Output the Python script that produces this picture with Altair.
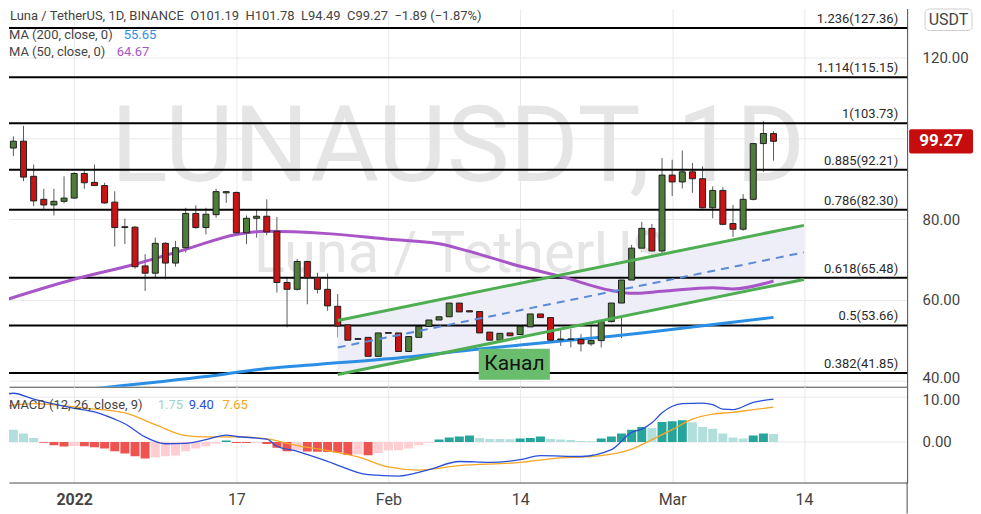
import altair as alt
import pandas as pd

# ---------------- data ----------------
START, END = "2021-12-25", "2022-03-11"
opens = [96.6, 97.6, 99.3, 90.6, 84.9, 83.5, 84.4,
         85.2, 91.3, 89.1, 88.3, 84.2, 78.1, 78.0, 68.4, 66.6, 74.0, 69.1, 72.9, 81.4, 77.9, 81.1, 86.5,
         86.6, 76.6, 80.2, 80.7, 77.0, 64.3, 62.6, 69.5, 65.5, 62.6, 58.4, 53.8, 50.2, 50.7, 46.0,
         51.7, 51.8, 47.2, 50.7, 53.4, 55.0, 55.8, 59.2, 57.3, 57.1, 52.0, 50.0, 51.8, 51.4, 53.3, 56.5,
         55.6, 50.1, 50.3, 50.2, 49.1, 49.9, 54.6, 59.2, 64.9, 72.8, 77.7, 72.1,
         90.9, 89.2, 91.7, 90.0, 82.8, 87.1, 78.9, 77.5, 84.9, 98.7, 101.19]
highs = [97.5, 100.5, 103.1, 93.5, 87.5, 87.5, 90.6,
         91.6, 92.3, 93.5, 89.0, 86.9, 80.1, 78.3, 71.3, 75.4, 74.3, 74.6, 82.8, 83.4, 82.8, 87.5, 86.9,
         86.8, 80.9, 82.4, 84.9, 80.5, 65.5, 70.1, 70.0, 66.7, 66.5, 61.4, 54.1, 53.2, 51.5, 52.0,
         54.0, 52.2, 52.0, 54.4, 58.1, 57.0, 60.4, 59.8, 57.5, 57.4, 54.4, 52.7, 53.3, 54.4, 57.1, 57.3,
         57.0, 52.5, 52.8, 51.5, 53.8, 55.6, 64.7, 65.5, 73.6, 79.3, 78.8, 95.1,
         94.7, 97.0, 93.9, 93.1, 88.1, 87.9, 83.5, 86.2, 104.6, 104.2, 101.78]
lows = [95.3, 95.6, 89.4, 83.2, 82.2, 80.9, 83.9,
        85.0, 87.5, 88.2, 83.8, 73.2, 73.8, 67.7, 62.2, 65.4, 65.1, 68.2, 71.7, 77.6, 76.2, 80.3, 84.0,
        76.3, 73.8, 75.4, 76.0, 61.8, 53.2, 62.3, 58.9, 61.6, 57.3, 50.7, 47.4, 49.1, 45.8, 43.7,
        51.1, 47.0, 46.6, 49.1, 52.8, 53.2, 54.2, 54.4, 54.2, 51.5, 49.5, 49.5, 50.7, 50.7, 52.3, 54.8,
        49.8, 48.6, 48.2, 47.2, 48.6, 48.2, 54.4, 50.5, 63.5, 71.9, 70.9, 70.4,
        85.7, 87.6, 86.5, 82.6, 80.2, 78.5, 75.6, 77.1, 84.6, 91.7, 94.49]
closes = [96.0, 99.3, 90.4, 84.5, 83.5, 84.4, 85.2,
          91.3, 89.0, 88.3, 84.0, 77.9, 77.9, 68.2, 66.6, 74.0, 69.1, 72.9, 81.4, 77.9, 81.2, 86.8, 86.8,
          76.6, 80.2, 80.7, 76.8, 64.3, 62.6, 69.5, 65.5, 62.6, 58.5, 53.5, 50.0, 50.4, 46.0, 51.8,
          51.9, 47.2, 50.9, 53.4, 55.0, 55.8, 59.2, 57.0, 57.0, 51.8, 50.0, 51.7, 51.1, 53.4, 56.5, 55.6,
          50.0, 50.3, 50.2, 49.1, 49.9, 54.6, 59.2, 64.9, 72.8, 77.7, 72.1, 90.9,
          89.2, 91.7, 90.0, 82.8, 87.1, 78.7, 77.5, 84.9, 98.7, 101.19, 99.27]
macd_hist = [3.3, 2.7, 1.83, 0.88, -0.2, -0.73, -1.0,
             -0.9, -0.97, -1.17, -1.46, -2.05, -2.56, -3.14, -3.65, -3.36, -3.14, -3.0, -2.05, -1.46, -0.95,
             -0.37, 0.3, -0.22, -0.25, -0.15, -0.44, -1.3, -2.05, -1.83, -2.1, -2.15, -2.2, -2.3, -2.85,
             -2.75, -2.95, -2.41,
             -1.9, -1.83, -1.46, -0.73, -0.22, 0.51, 0.95, 1.17, 1.39, 0.88, 0.66, 0.64, 0.6, 0.73, 0.88,
             1.17, 0.66, 0.51, 0.44, 0.22, 0.15, 0.73, 1.17, 1.83, 2.7, 3.3, 3.07, 4.39,
             4.53, 4.75, 4.31, 3.29, 2.92, 1.83, 0.95, 0.73, 1.39, 1.85, 1.75]

ma50_dates = ["2021-12-25", "2022-01-01", "2022-01-07", "2022-01-12", "2022-01-17", "2022-01-20",
              "2022-01-26", "2022-02-01", "2022-02-06", "2022-02-09", "2022-02-14", "2022-02-18",
              "2022-02-23", "2022-02-25", "2022-02-28", "2022-03-05", "2022-03-07", "2022-03-11"]
ma50_vals = [59.8, 65.1, 68.8, 72.5, 76.2, 77.0, 76.4, 75.0, 73.9, 72.0, 68.3, 65.8,
             62.3, 61.6, 62.1, 63.0, 62.7, 64.67]
ma200_dates = ["2021-12-25", "2022-01-03", "2022-01-09", "2022-01-14", "2022-01-20", "2022-01-25",
               "2022-02-01", "2022-02-10", "2022-02-14", "2022-02-23", "2022-02-26", "2022-03-11"]
ma200_vals = [35.5, 38.0, 39.6, 41.0, 43.0, 44.0, 45.4, 47.8, 48.8, 51.0, 51.8, 55.65]

macd_dates = ["2021-12-25", "2021-12-26", "2021-12-28", "2022-01-01", "2022-01-03", "2022-01-05",
              "2022-01-06", "2022-01-08", "2022-01-10", "2022-01-12", "2022-01-14", "2022-01-16",
              "2022-01-17", "2022-01-20", "2022-01-21", "2022-01-23", "2022-01-25", "2022-01-26",
              "2022-01-30", "2022-02-02", "2022-02-05", "2022-02-08", "2022-02-11", "2022-02-14",
              "2022-02-16", "2022-02-20", "2022-02-23", "2022-02-25", "2022-02-26", "2022-02-27",
              "2022-02-28", "2022-03-02", "2022-03-04", "2022-03-05", "2022-03-06", "2022-03-07",
              "2022-03-09", "2022-03-11"]
macd_vals = [10.4, 10.7, 9.4, 7.4, 6.6, 5.0, 4.0, 1.1, -0.4, -0.3, 0.5, 1.5, 1.2, 0.6, -0.95, -2.05,
             -3.5, -4.25, -7.2, -7.5, -6.1, -4.3, -4.5, -3.9, -3.0, -3.2, -1.7, 2.1, 2.8, 4.2, 6.4,
             8.4, 8.55, 8.2, 7.2, 7.1, 8.7, 9.4]
signal_dates = ["2021-12-25", "2021-12-28", "2022-01-02", "2022-01-06", "2022-01-09", "2022-01-12",
                "2022-01-14", "2022-01-17", "2022-01-20", "2022-01-23", "2022-01-26", "2022-01-29",
                "2022-02-01", "2022-02-04", "2022-02-08", "2022-02-14", "2022-02-17", "2022-02-22",
                "2022-02-25", "2022-02-26", "2022-02-27", "2022-03-01", "2022-03-03", "2022-03-05",
                "2022-03-07", "2022-03-09", "2022-03-11"]
signal_vals = [7.8, 8.4, 7.45, 6.4, 3.8, 1.4, 1.1, 1.1, 0.66, -0.8, -1.9, -3.3, -5.5, -6.2, -5.2,
               -4.5, -3.7, -3.0, -1.6, -0.6, 0.5, 2.7, 5.0, 6.1, 6.5, 7.1, 7.65]

fib_ratios = ["1.236", "1.114", "1", "0.885", "0.786", "0.618", "0.5", "0.382"]
fib_levels = [127.36, 115.15, 103.73, 92.21, 82.30, 65.48, 53.66, 41.85]

channel_dates = ["2022-01-27", "2022-03-14"]
channel_upper = [54.9, 78.45]
channel_lower = [41.5, 65.05]
channel_mid = [48.2, 71.75]

label_text = "Канал"
label_box_dates = ["2022-02-09T22:00", "2022-02-16T22:20"]
label_box_prices = [40.2, 47.86]
label_anchor_date = "2022-02-13T10:20"
label_anchor_price = 44.0

tick_dates = ["2022-01-01", "2022-01-17", "2022-02-01", "2022-02-14", "2022-03-01", "2022-03-14"]
tick_labels = ["2022", "17", "Feb", "14", "Mar", "14"]
price_ticks = [40, 60, 80, 100, 120]
macd_ticks = [0, 10]

header_main = "Luna / TetherUS, 1D, BINANCE  O101.19  H101.78  L94.49  C99.27  −1.89 (−1.87%)"
ma200_name, ma200_last = "MA (200, close, 0)", "55.65"
ma50_name, ma50_last = "MA (50, close, 0)", "64.67"
macd_name = "MACD (12, 26, close, 9)"
macd_last = ["1.75", "9.40", "7.65"]
last_price = 99.27
currency = "USDT"
wm_big, wm_small = "LUNAUSDT, 1D", "Luna / TetherUS"

# ---------------- helpers ----------------
ORIGIN = pd.Timestamp("2022-01-01")


def to_day(ds):
    return [float((pd.Timestamp(d) - ORIGIN) / pd.Timedelta(days=1)) for d in ds]


FONT = "Roboto"
TXT = "#444444"
GRID = "#e9e9ec"
AX = "#4a4a4a"
xs = alt.Scale(domain=[-5.94, 81.69], nice=False, zero=False)
ys = alt.Scale(domain=[38.47, 132.16], nice=False, zero=False)
ym = alt.Scale(domain=[-8.92, 12.13], nice=False, zero=False)
tick_days = to_day(tick_dates)

lab_expr = "''"
for d, l in reversed(list(zip(tick_days, tick_labels))):
    lab_expr = f"datum.value == {d} ? '{l}' : ({lab_expr})"

AXX_P = alt.Axis(values=tick_days, labels=False, ticks=False, domain=True, domainColor=AX,
                 grid=True, gridColor=GRID)
AXY_P = alt.Axis(orient="right", values=price_ticks,
                 labelExpr="datum.value == 100 ? '' : format(datum.value, '.2f')",
                 grid=True, gridColor=GRID, ticks=False, domain=True, domainColor=AX,
                 labelFont=FONT, labelFontSize=15, labelColor=TXT, labelPadding=15,
                 labelOffset={"condition": {"test": "datum.value == 40", "value": -3}, "value": 0})
AXX_M = alt.Axis(values=tick_days, labelExpr=lab_expr, ticks=False, domain=True, domainColor=AX,
                 grid=True, gridColor=GRID, labelFont=FONT, labelFontSize=16, labelColor=TXT,
                 labelPadding=9,
                 labelFontWeight={"condition": {"test": "datum.value == 0", "value": "bold"},
                                  "value": "normal"})
AXY_M = alt.Axis(orient="right", values=macd_ticks, format=".2f", grid=True, gridColor=GRID,
                 ticks=False, domain=True, domainColor=AX, labelFont=FONT, labelFontSize=15,
                 labelColor=TXT, labelPadding=15,
                 labelOffset={"condition": {"test": "datum.value == 10", "value": 3}, "value": 0})

dates = pd.date_range(START, END, freq="D")
assert len(dates) == len(opens) == len(highs) == len(lows) == len(closes) == len(macd_hist)
cdf = pd.DataFrame({"day": to_day(dates), "open": opens, "high": highs, "low": lows, "close": closes})
cdf["dir"] = ["up" if c >= o else "down" for o, c in zip(opens, closes)]

hcol = []
prev = macd_hist[0]
for h in macd_hist:
    if h >= 0:
        hcol.append("#26a69a" if h >= prev else "#b2dfdb")
    else:
        hcol.append("#ef5350" if h < prev else "#ffcdd2")
    prev = h
hdf = pd.DataFrame({"day": to_day(dates), "hist": macd_hist, "col": hcol})

ma50 = pd.DataFrame({"day": to_day(ma50_dates), "v": ma50_vals})
ma200 = pd.DataFrame({"day": to_day(ma200_dates), "v": ma200_vals})
mline = pd.DataFrame({"day": to_day(macd_dates), "v": macd_vals})
sline = pd.DataFrame({"day": to_day(signal_dates), "v": signal_vals})
fib = pd.DataFrame({"level": fib_levels,
                    "label": [f"{r}({v:.2f})" for r, v in zip(fib_ratios, fib_levels)]})
chan = pd.DataFrame({"day": to_day(channel_dates), "up": channel_upper, "lo": channel_lower,
                     "mid": channel_mid})


def XP(field="day"):
    return alt.X(f"{field}:Q", scale=xs, axis=AXX_P, title=None)


def YP(field):
    return alt.Y(f"{field}:Q", scale=ys, axis=AXY_P, title=None)


def XM(field="day"):
    return alt.X(f"{field}:Q", scale=xs, axis=AXX_M, title=None)


def YM(field):
    return alt.Y(f"{field}:Q", scale=ym, axis=AXY_M, title=None)


def txt(s, x, y, size=13, color=TXT, align="left", weight="normal", baseline="alphabetic"):
    return alt.Chart(pd.DataFrame({"t": [s]})).mark_text(
        font=FONT, fontSize=size, color=color, align=align, baseline=baseline, fontWeight=weight
    ).encode(x=alt.value(x), y=alt.value(y), text="t:N")


# ---------------- price pane ----------------
wm1 = txt(wm_big, 450, 173, size=106, color="#e5e5e5", align="center")
wm2 = txt(wm_small, 452, 264, size=58, color="#e5e5e5", align="center")

chan_fill = alt.Chart(chan).mark_area(color="#eeeef8", opacity=1).encode(
    x=XP(), y=YP("up"), y2="lo:Q")

fib_rules = alt.Chart(fib).mark_rule(color="#000000", strokeWidth=2).encode(y=YP("level"))

ma200_line = alt.Chart(ma200).mark_line(color="#2a8fe4", strokeWidth=3, interpolate="monotone",
                                        clip=True).encode(x=XP(), y=YP("v"))
ma50_line = alt.Chart(ma50).mark_line(color="#a855c8", strokeWidth=3, interpolate="monotone",
                                      clip=True).encode(x=XP(), y=YP("v"))

wicks = alt.Chart(cdf).mark_rule(color="#5a5a5a", strokeWidth=1, clip=True).encode(
    x=XP(), y=YP("low"), y2="high:Q")
bodies = alt.Chart(cdf).mark_bar(size=6, stroke="#1f1f1f", strokeWidth=1, clip=True).encode(
    x=XP(), y=YP("open"), y2="close:Q",
    color=alt.Color("dir:N", scale=alt.Scale(domain=["up", "down"], range=["#4e7d3a", "#c81414"]),
                    legend=None))

chan_up = alt.Chart(chan).mark_line(color="#4fae52", strokeWidth=3).encode(x=XP(), y=YP("up"))
chan_lo = alt.Chart(chan).mark_line(color="#4fae52", strokeWidth=3).encode(x=XP(), y=YP("lo"))
chan_mid = alt.Chart(chan).mark_line(color="#5b8ad8", strokeWidth=2, strokeDash=[8, 6]).encode(
    x=XP(), y=YP("mid"))

fib_labels = alt.Chart(fib).mark_text(font=FONT, fontSize=13, color="#2b2b2b", align="right",
                                      baseline="bottom", dy=-2).encode(
    x=alt.value(891), y=YP("level"), text="label:N")

kbox = pd.DataFrame({"d1": [to_day([label_box_dates[0]])[0]], "d2": [to_day([label_box_dates[1]])[0]],
                     "p1": [label_box_prices[0]], "p2": [label_box_prices[1]],
                     "d": [to_day([label_anchor_date])[0]], "p": [label_anchor_price], "t": [label_text]})
kanal_box = alt.Chart(kbox).mark_rect(color="#6bbd6e").encode(
    x=XP("d1"), x2="d2:Q", y=YP("p1"), y2="p2:Q")
kanal_text = alt.Chart(kbox).mark_text(font=FONT, fontSize=21, color="#111111", baseline="middle").encode(
    x=XP("d"), y=YP("p"), text="t:N")

hdr1 = txt(header_main.replace(" ", "\u00a0"), 1, 11)
hdr2a = txt(ma200_name.replace(" ", "\u00a0"), 0, 30.5)
hdr2b = txt(ma200_last, 115, 30.5, color="#2a8fe4")
hdr3a = txt(ma50_name.replace(" ", "\u00a0"), 0, 48)
hdr3b = txt(ma50_last, 108, 48, color="#a855c8")

usdt_box = alt.Chart(pd.DataFrame({"a": [0]})).mark_rect(
    fill="white", stroke="#cfcfcf", strokeWidth=1, cornerRadius=4).encode(
    x=alt.value(918), x2=alt.value(965), y=alt.value(0.5), y2=alt.value(22))
usdt_text = txt(currency, 941.5, 11.5, size=16, align="center", baseline="middle")

tag = pd.DataFrame({"p": [last_price], "t": [f"{last_price:.2f}"]})
tag["p1"] = tag["p"] - 3.0
tag["p2"] = tag["p"] + 3.0
tag_rect = alt.Chart(tag).mark_rect(color="#c60c0c", cornerRadius=2).encode(
    x=alt.value(902), x2=alt.value(966), y=YP("p1"), y2="p2:Q")
tag_text = alt.Chart(tag).mark_text(font=FONT, fontSize=17, fontWeight="bold", color="white",
                                    baseline="middle", align="center").encode(
    x=alt.value(934), y=YP("p"), text="t:N")

price = alt.layer(wicks, wm1, wm2, chan_fill, fib_rules, ma200_line, ma50_line, bodies,
                  chan_up, chan_lo, chan_mid, fib_labels, kanal_box, kanal_text,
                  hdr1, hdr2a, hdr2b, hdr3a, hdr3b, usdt_box, usdt_text, tag_rect, tag_text
                  ).properties(width=900, height=379)

# ---------------- MACD pane ----------------
bars = alt.Chart(hdf).mark_bar(size=9, clip=True).encode(
    x=XM(), y=YM("hist"), y2=alt.datum(0), color=alt.Color("col:N", scale=None))
sig = alt.Chart(sline).mark_line(color="#f5a623", strokeWidth=1.3, interpolate="monotone",
                                 clip=True).encode(x=XM(), y=YM("v"))
mac = alt.Chart(mline).mark_line(color="#2a4fd8", strokeWidth=1.3, interpolate="monotone",
                                 clip=True).encode(x=XM(), y=YM("v"))
m_h = txt(macd_name.replace(" ", "\u00a0"), 0, 22.5)
m_v1 = txt(macd_last[0], 149, 22.5, color="#9fd3cd")
m_v2 = txt(macd_last[1], 180, 22.5, color="#2a4fd8")
m_v3 = txt(macd_last[2], 214, 22.5, color="#f5a623")
edge = alt.Chart(pd.DataFrame({"a": [0]})).mark_rule(color=AX, strokeWidth=1).encode(
    x=alt.value(900), y=alt.value(96), y2=alt.value(127))

macd = alt.layer(bars, sig, mac, m_h, m_v1, m_v2, m_v3, edge).properties(width=900, height=96)

chart = alt.vconcat(price, macd, spacing=0, bounds="flush").properties(
    padding=0, background="white"
).configure_view(stroke=None)

chart.save("out.html", embed_options={"renderer": "svg", "actions": False})
